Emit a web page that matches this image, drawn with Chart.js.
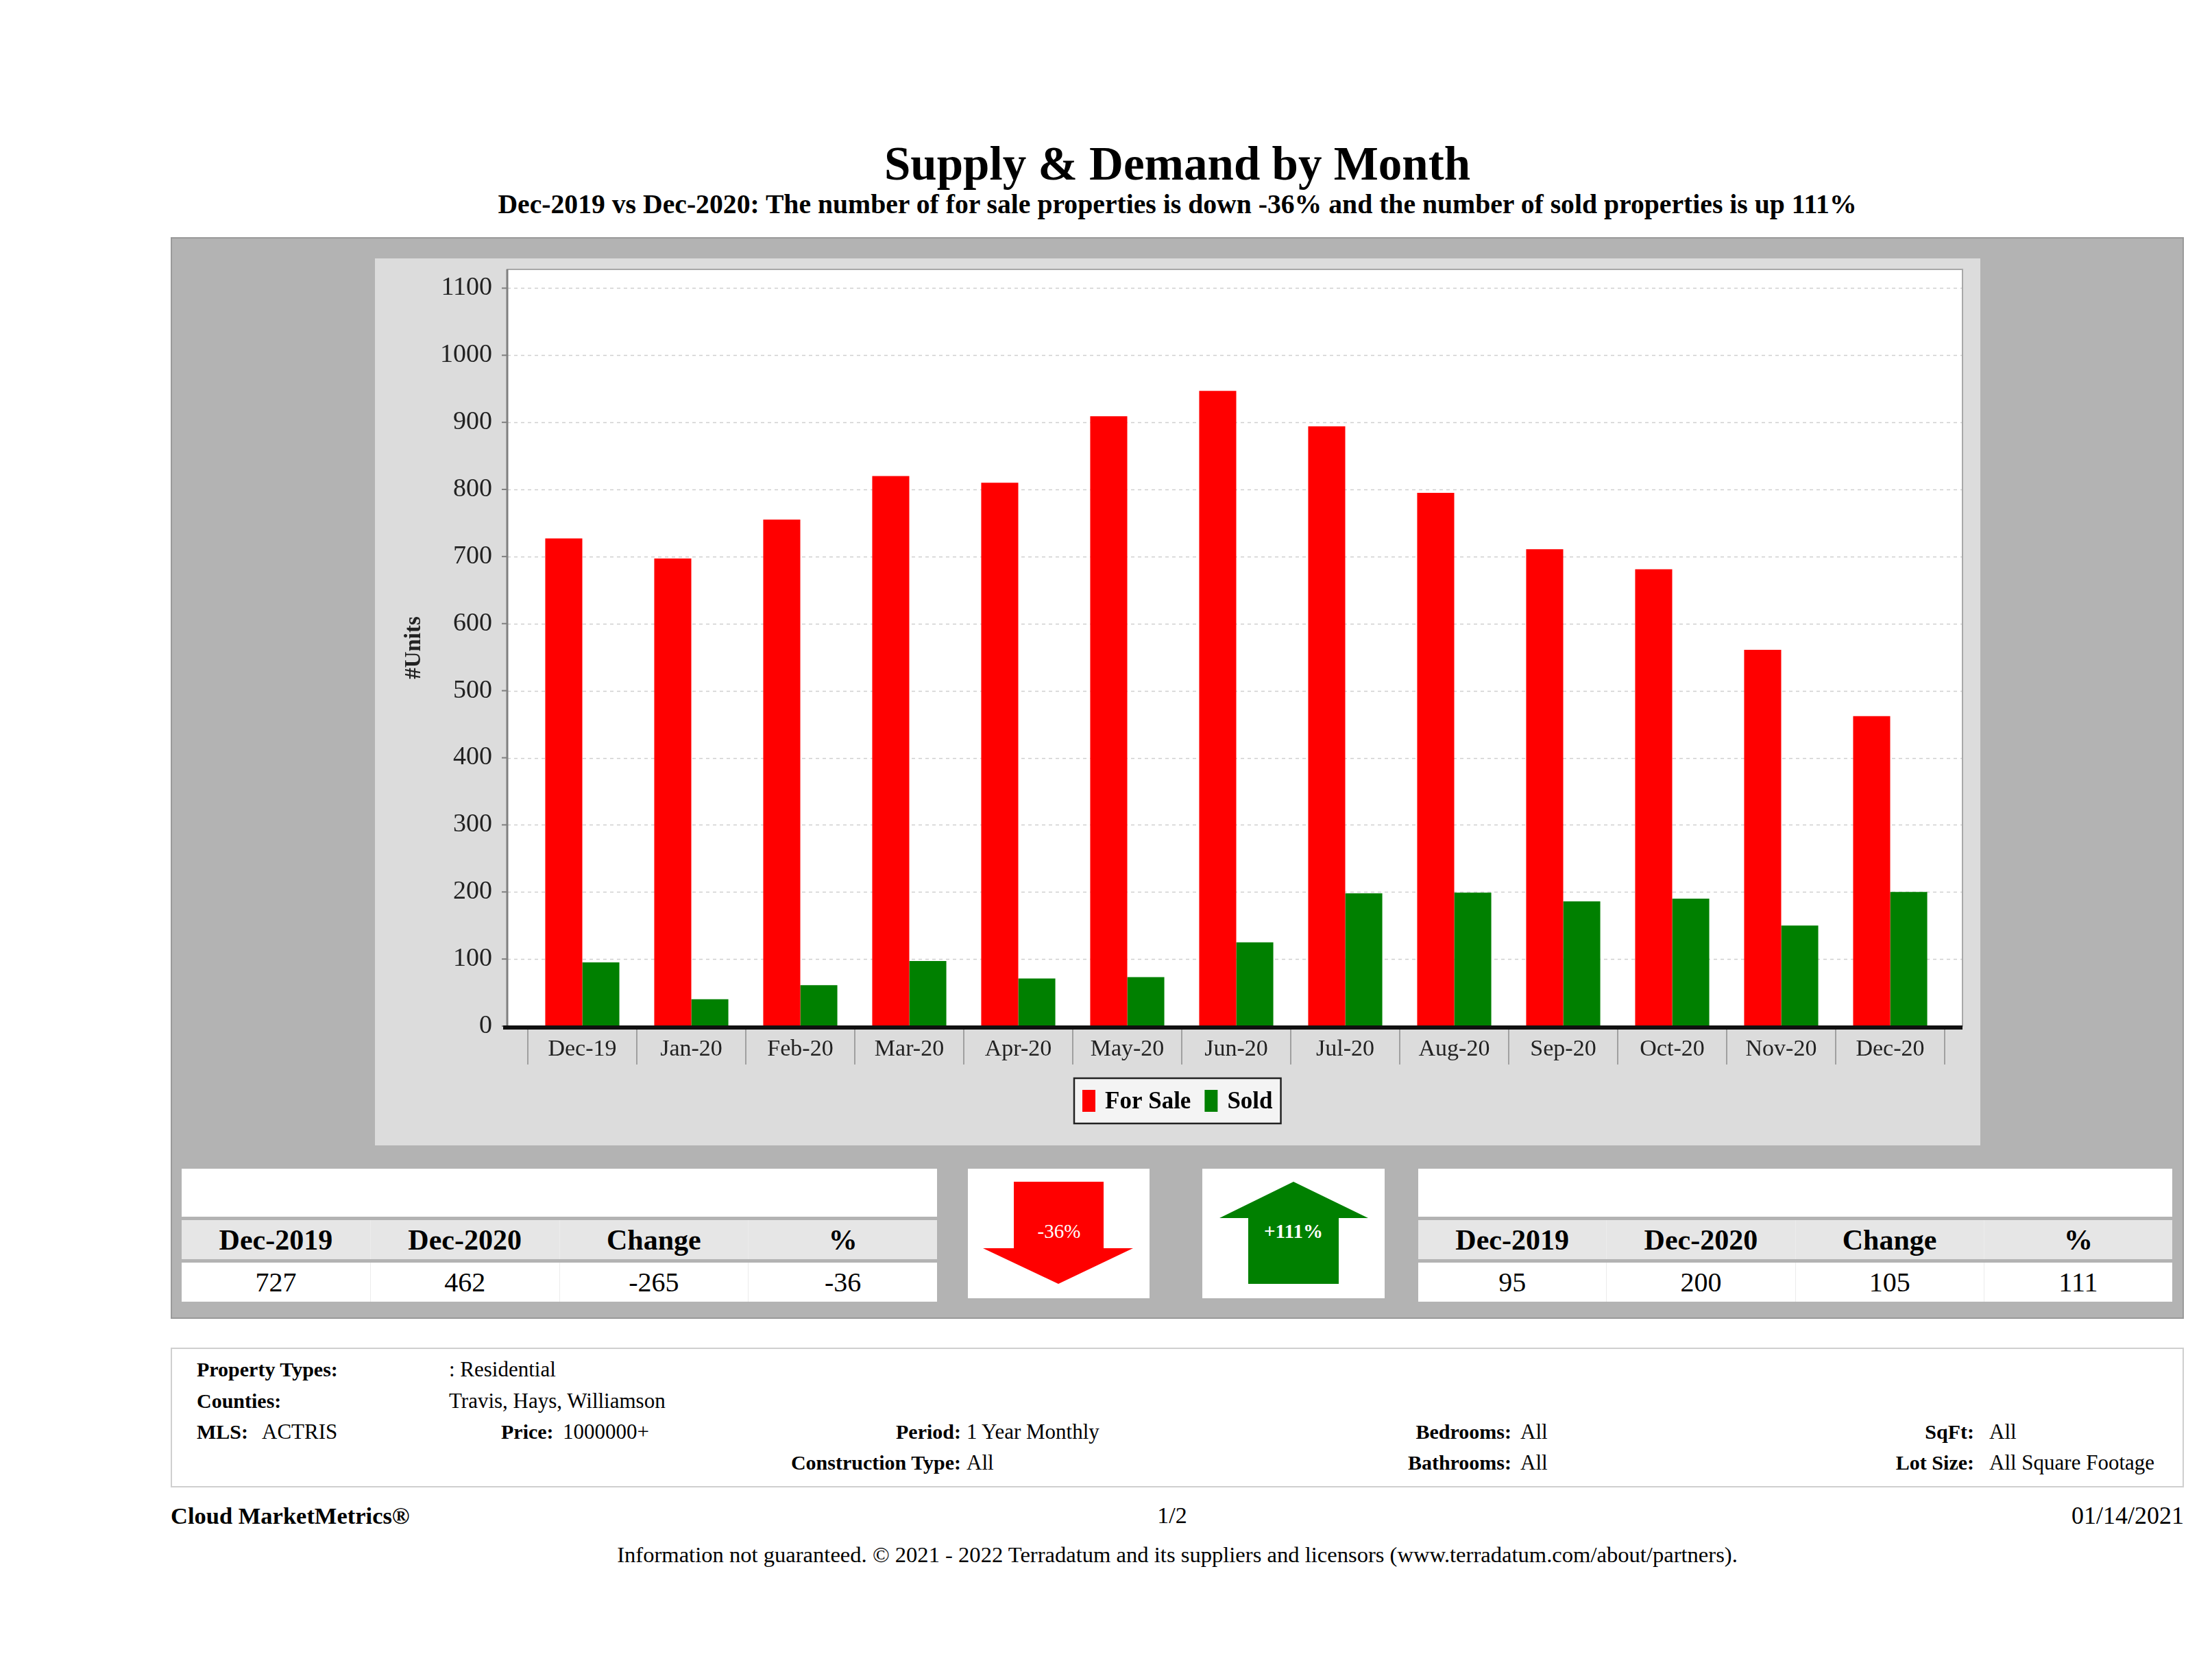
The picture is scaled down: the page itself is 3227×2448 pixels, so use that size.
<!DOCTYPE html>
<html>
<head>
<meta charset="utf-8">
<title>Supply & Demand by Month</title>
<script src="https://cdn.jsdelivr.net/npm/chart.js@4.4.1/dist/chart.umd.min.js"></script>
<style>
    body { margin: 0; width: 3227px; height: 2448px; background: #fff; position: relative; overflow: hidden;
           font-family: 'Liberation Serif', 'Times New Roman', serif; color: #000; }
    .a { position: absolute; line-height: 1; white-space: nowrap; }
    .b { font-weight: bold; }
    #title { left: 249px; width: 2937px; top: 205px; text-align: center; font-size: 69px; font-weight: bold; }
    #subtitle { left: 249px; width: 2937px; top: 279px; text-align: center; font-size: 39.7px; font-weight: bold; }
    #panel { position: absolute; left: 249px; top: 346px; width: 2937px; height: 1578px; background: #b3b3b3;
             border: 2px solid #999; box-sizing: border-box; }
    #chartBox { position: absolute; left: 547px; top: 377px; width: 2342px; height: 1294px; background: #dcdcdc; }
    .tbl { position: absolute; top: 1705px; width: 1102px; }
    .tbl .top { height: 70px; background: #fff; }
    .tbl .row { display: flex; height: 57px; margin-top: 5px; }
    .tbl .row div { flex: 1; display: flex; align-items: center; justify-content: center; border-left: 1px solid #ececec; }
    .tbl .row div:first-child { border-left: none; }
    .tbl .hd { background: #e6e6e6; font-weight: bold; font-size: 42px; }
    .tbl .vl { background: #fff; font-size: 40px; }
    .arrowBox { position: absolute; top: 1705px; width: 266px; height: 189px; background: #fff; }
    #info { position: absolute; left: 249px; top: 1966px; width: 2937px; height: 204px; background: #fff;
            border: 2px solid #cfcfcf; box-sizing: border-box; }
    .i { font-size: 31px; }
    .i.b { font-size: 30px; }
    .r { text-align: right; }
</style>
</head>
<body>

<div id="title" class="a">Supply &amp; Demand by Month</div>
<div id="subtitle" class="a">Dec-2019 vs Dec-2020: The number of for sale properties is down -36% and the number of sold properties is up 111%</div>

<div id="panel"></div>
<div id="chartBox"><canvas id="supplyChart" width="2342" height="1294"></canvas></div>

<div class="tbl" id="saleTable" style="left:265px"></div>
<div class="tbl" id="soldTable" style="left:2069px; width:1100px"></div>

<div class="arrowBox" style="left:1412px; width:265px">
    <svg width="265" height="189">
        <polygon points="67,19 198,19 198,116 241,116 132,168 22,116 67,116" fill="#ff0000"/>
        <text x="133" y="101" fill="#fff" font-size="29" text-anchor="middle" font-family="Liberation Serif">-36%</text>
    </svg>
</div>
<div class="arrowBox" style="left:1754px">
    <svg width="266" height="189">
        <polygon points="133,19 242,72 199,72 199,168 67,168 67,72 25,72" fill="#008000"/>
        <text x="133" y="101" fill="#fff" font-size="29" font-weight="bold" text-anchor="middle" font-family="Liberation Serif">+111%</text>
    </svg>
</div>

<div id="info"></div>
<div class="a i b" style="left:287px; top:1983px">Property Types:</div>
<div class="a i" style="left:655px; top:1982px">: Residential</div>
<div class="a i b" style="left:287px; top:2029px">Counties:</div>
<div class="a i" style="left:655px; top:2028px">Travis, Hays, Williamson</div>
<div class="a i b" style="left:287px; top:2074px">MLS:</div>
<div class="a i" style="left:382px; top:2073px">ACTRIS</div>
<div class="a i b" style="left:731px; top:2074px">Price:</div>
<div class="a i" style="left:821px; top:2073px">1000000+</div>
<div class="a i b r" style="right:calc(3227px - 1402px); top:2074px">Period:</div>
<div class="a i" style="left:1410px; top:2073px">1 Year Monthly</div>
<div class="a i b r" style="right:calc(3227px - 1402px); top:2119px">Construction Type:</div>
<div class="a i" style="left:1410px; top:2118px">All</div>
<div class="a i b r" style="right:calc(3227px - 2205px); top:2074px">Bedrooms:</div>
<div class="a i" style="left:2218px; top:2073px">All</div>
<div class="a i b r" style="right:calc(3227px - 2205px); top:2119px">Bathrooms:</div>
<div class="a i" style="left:2218px; top:2118px">All</div>
<div class="a i b r" style="right:calc(3227px - 2880px); top:2074px">SqFt:</div>
<div class="a i" style="left:2902px; top:2073px">All</div>
<div class="a i b r" style="right:calc(3227px - 2880px); top:2119px">Lot Size:</div>
<div class="a i" style="left:2902px; top:2118px">All Square Footage</div>

<div class="a b" style="left:249px; top:2194px; font-size:34.5px">Cloud MarketMetrics®</div>
<div class="a" style="left:1610px; width:200px; text-align:center; top:2194px; font-size:34px">1/2</div>
<div class="a r" style="right:calc(3227px - 3186px); top:2193px; font-size:36px">01/14/2021</div>
<div class="a" style="left:249px; width:2937px; text-align:center; top:2252px; font-size:32.6px">Information not guaranteed. © 2021 - 2022 Terradatum and its suppliers and licensors (www.terradatum.com/about/partners).</div>

<script>
// ==========================================
// DATA
// ==========================================
const months = ['Dec-19', 'Jan-20', 'Feb-20', 'Mar-20', 'Apr-20', 'May-20', 'Jun-20',
                'Jul-20', 'Aug-20', 'Sep-20', 'Oct-20', 'Nov-20', 'Dec-20'];
const forSale = [727, 697, 755, 820, 810, 909, 947, 894, 795, 711, 681, 561, 462];
const sold = [95, 40, 61, 97, 71, 73, 125, 198, 199, 186, 190, 150, 200];

const seriesNames = ['For Sale', 'Sold'];
const seriesColors = ['#ff0000', '#008000'];

const tableHeaders = ['Dec-2019', 'Dec-2020', 'Change', '%'];
const forSaleSummary = ['727', '462', '-265', '-36'];
const soldSummary = ['95', '200', '105', '111'];

// ==========================================
// SUMMARY TABLES
// ==========================================
function renderTable(el, values) {
    el.innerHTML = `
        <div class="top"></div>
        <div class="row hd">${tableHeaders.map(h => `<div>${h}</div>`).join('')}</div>
        <div class="row vl">${values.map(v => `<div>${v}</div>`).join('')}</div>
    `;
}
renderTable(document.getElementById('saleTable'), forSaleSummary);
renderTable(document.getElementById('soldTable'), soldSummary);

// ==========================================
// CHART
// ==========================================
const FONT = "'Liberation Serif', 'Times New Roman', serif";

// white plot background, dotted grid, axis lines and the boxed legend
const plotFrame = {
    id: 'plotFrame',
    beforeDraw(chart) {
        const { ctx, chartArea: a, scales: { y } } = chart;
        const left = a.left - 30, right = a.right + 26;
        ctx.save();
        ctx.fillStyle = '#ffffff';
        ctx.fillRect(left, a.top, right - left, a.bottom - a.top);
        ctx.strokeStyle = '#cfcfcf';
        ctx.lineWidth = 1.5;
        ctx.setLineDash([5, 5]);
        y.ticks.forEach(t => {
            if (t.value === 0) return;
            const py = Math.round(y.getPixelForValue(t.value)) + 0.5;
            ctx.beginPath();
            ctx.moveTo(left, py);
            ctx.lineTo(right, py);
            ctx.stroke();
        });
        ctx.setLineDash([]);
        ctx.strokeStyle = '#a8a8a8';
        ctx.lineWidth = 2;
        ctx.strokeRect(left, a.top, right - left, a.bottom - a.top);
        ctx.restore();
    },
    afterDatasetsDraw(chart) {
        const { ctx, chartArea: a, scales: { y } } = chart;
        const left = a.left - 30, right = a.right + 26;
        ctx.save();
        ctx.strokeStyle = '#808080';
        ctx.lineWidth = 3;
        ctx.beginPath();
        ctx.moveTo(left, a.top);
        ctx.lineTo(left, a.bottom);
        ctx.stroke();
        ctx.lineWidth = 2;
        y.ticks.forEach(t => {
            const py = y.getPixelForValue(t.value);
            ctx.beginPath();
            ctx.moveTo(left - 8, py);
            ctx.lineTo(left, py);
            ctx.stroke();
        });
        ctx.fillStyle = '#111';
        ctx.fillRect(left - 6, a.bottom - 1, right - left + 6, 6);
        ctx.restore();
    },
    afterDraw(chart) {
        const { ctx, chartArea: a } = chart;
        const sets = chart.data.datasets;
        const sw = 19, sh = 32, gapText = 14, gapItem = 20, pad = 12, boxH = 66;
        ctx.save();
        ctx.font = `bold 35px ${FONT}`;
        const widths = sets.map(d => ctx.measureText(d.label).width);
        const total = pad * 2 + widths.reduce((s, w) => s + sw + gapText + w, 0) + gapItem * (sets.length - 1);
        let x = Math.round((chart.width - total) / 2);
        const top = a.bottom + 76;
        ctx.fillStyle = '#f4f4f4';
        ctx.fillRect(x, top, total, boxH);
        ctx.strokeStyle = '#222';
        ctx.lineWidth = 2.5;
        ctx.strokeRect(x, top, total, boxH);
        x += pad;
        ctx.textBaseline = 'alphabetic';
        sets.forEach((d, i) => {
            ctx.fillStyle = d.backgroundColor;
            ctx.fillRect(x, top + 17, sw, sh);
            x += sw + gapText;
            ctx.fillStyle = '#000';
            ctx.fillText(d.label, x, top + 44);
            x += widths[i] + gapItem;
        });
        ctx.restore();
    }
};

new Chart(document.getElementById('supplyChart'), {
    type: 'bar',
    data: {
        labels: months,
        datasets: [
            { label: seriesNames[0], data: forSale, backgroundColor: seriesColors[0] },
            { label: seriesNames[1], data: sold, backgroundColor: seriesColors[1] }
        ]
    },
    options: {
        responsive: false,
        animation: false,
        devicePixelRatio: 1,
        datasets: { bar: { categoryPercentage: 0.68, barPercentage: 1.0, borderWidth: 0 } },
        layout: { padding: { left: 0, top: 16, right: 52, bottom: 0 } },
        plugins: {
            legend: { display: false },
            tooltip: { enabled: false }
        },
        scales: {
            x: {
                grid: { display: true, offset: true, drawOnChartArea: false, drawTicks: true,
                        tickLength: 56, color: '#a0a0a0', lineWidth: 2 },
                border: { display: false },
                ticks: { color: '#222', padding: -42, font: { family: FONT, size: 34 }, maxRotation: 0 },
                afterFit: s => { s.height = 174; s.paddingLeft = 0; s.paddingRight = 0; }
            },
            y: {
                min: 0,
                max: 1128,
                grid: { display: false },
                border: { display: false },
                ticks: { stepSize: 100, includeBounds: false, padding: 44, color: '#222',
                         font: { family: FONT, size: 38 }, callback: v => String(v) },
                title: { display: true, text: '#Units', color: '#222', padding: { top: 38, bottom: 0 },
                         font: { family: FONT, size: 33, weight: 'bold' } },
                afterFit: s => { s.width = 223; s.paddingTop = 0; s.paddingBottom = 0; }
            }
        }
    },
    plugins: [plotFrame]
});
</script>
</body>
</html>
